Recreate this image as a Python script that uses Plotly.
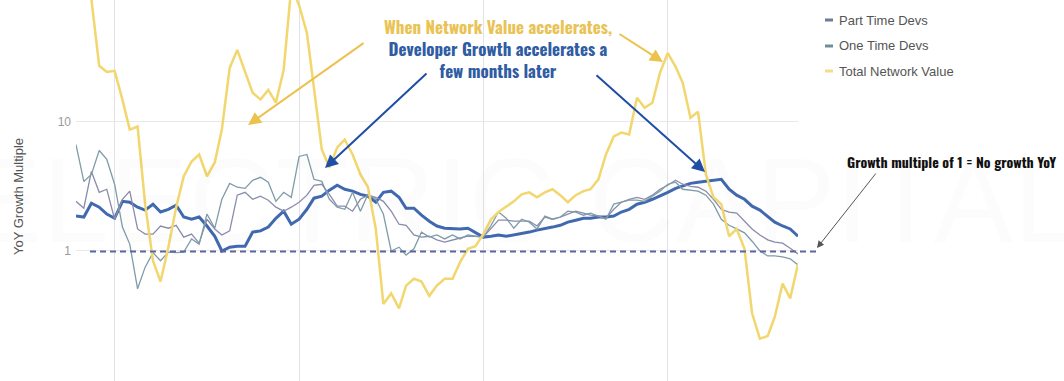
import plotly.graph_objects as go
import pandas as pd

# ---------------- data ----------------
months = pd.date_range("2011-08-01", "2019-06-01", freq="MS")

full_time = [1.86, 1.83, 2.34, 2.18, 1.93,
             1.79, 2.42, 2.38, 2.18, 2.07, 2.30, 2.00, 2.10, 2.26, 1.83,
             1.76, 1.83, 1.56, 1.30, 1.00, 1.07, 1.09, 1.09, 1.40, 1.43,
             1.53, 1.79, 2.03, 1.61, 1.76, 2.10, 2.56, 2.65, 2.95, 3.22,
             3.00, 2.90, 2.74, 2.65, 2.38, 2.84, 2.90, 2.60, 2.14, 2.14,
             1.89, 1.70, 1.56, 1.50, 1.48, 1.48, 1.50, 1.38, 1.28, 1.30,
             1.33, 1.30, 1.33, 1.35, 1.40, 1.45, 1.48, 1.53, 1.58, 1.67,
             1.73, 1.79, 1.79, 1.83, 1.83, 1.86, 2.00, 2.10, 2.30, 2.38,
             2.51, 2.65, 2.84, 3.05, 3.16, 3.33, 3.40, 3.45, 3.52, 3.58,
             3.00, 2.70, 2.51, 2.22, 2.07, 1.86, 1.67, 1.56, 1.48, 1.30]

part_time = [2.42, 2.14, 4.12, 2.84, 3.00,
             1.76, 2.51, 2.90, 1.48, 1.35, 1.35, 1.56, 1.50, 1.58, 1.28,
             1.35, 1.15, 1.76, 1.48, 1.33, 1.43, 2.70, 2.84, 2.51, 2.65,
             2.47, 2.18, 2.03, 2.18, 2.38, 2.70, 3.22, 3.28, 2.74, 2.22,
             2.22, 2.03, 2.51, 2.70, 2.60, 2.42, 2.03, 1.61, 1.58, 1.33,
             1.28, 1.30, 1.22, 1.17, 1.22, 1.26, 1.30, 1.30, 1.28, 1.50,
             1.73, 1.73, 1.70, 1.70, 1.70, 1.56, 1.83, 1.76, 1.83, 1.93,
             2.03, 1.96, 1.89, 1.86, 1.79, 2.10, 2.38, 2.51, 2.60, 2.51,
             2.70, 3.00, 3.22, 3.52, 3.28, 3.16, 3.11, 2.90, 2.51, 2.10,
             2.00, 1.96, 1.70, 1.48, 1.33, 1.22, 1.17, 1.15, 1.05, 0.95]

one_time = [6.65, 3.45, 3.91, 5.98, 5.10,
            3.28, 1.53, 1.13, 0.51, 0.75, 0.97, 0.84, 0.98, 0.97, 0.98,
            1.24, 1.13, 1.93, 1.50, 2.51, 3.33, 3.11, 3.05, 3.52, 3.71,
            3.40, 2.42, 2.84, 2.60, 5.38, 5.57, 3.58, 3.45, 2.51, 2.18,
            2.10, 2.84, 2.03, 2.74, 2.51, 1.93, 1.00, 1.07, 0.93, 1.04,
            1.40, 1.28, 1.33, 1.24, 1.33, 1.24, 1.33, 1.30, 1.28, 1.58,
            2.00, 1.79, 1.50, 1.76, 1.67, 1.48, 1.86, 1.76, 1.83, 2.03,
            2.00, 1.89, 1.96, 1.86, 1.76, 2.30, 2.38, 2.47, 2.47, 2.42,
            2.65, 2.90, 3.28, 3.40, 3.00, 2.95, 2.90, 2.70, 2.30, 1.76,
            1.58, 1.48, 1.38, 1.19, 1.00, 0.915, 0.915, 0.90, 0.87, 0.78]

network_value = [160, 120, 88, 27.0, 24.2,
                 24.7, 14.8, 8.68, 9.15, 2.30, 0.84, 0.58, 1.07, 2.18, 3.78,
                 4.92, 5.57, 3.78, 4.84, 8.68, 26.0, 35.8, 24.2, 16.7, 14.8,
                 17.6, 14.0, 25.1, 110, 79.4, 48.4, 17.6, 6.09, 4.43, 6.31,
                 7.27, 5.57, 3.91, 3.11, 1.48, 0.39, 0.47, 0.36, 0.54, 0.61,
                 0.58, 0.45, 0.54, 0.61, 0.61, 0.82, 1.04, 1.09, 1.35, 1.76,
                 2.00, 2.22, 2.42, 2.74, 2.84, 2.60, 2.84, 3.00, 2.70, 2.38,
                 2.70, 2.90, 3.00, 3.58, 5.57, 7.67, 8.23, 7.94, 15.3, 12.8,
                 14.0, 23.8, 33.9, 26.5, 20.0, 10.7, 11.9, 3.91, 2.60, 2.30,
                 1.30, 1.48, 1.04, 0.33, 0.21, 0.22, 0.31, 0.56, 0.43, 0.79]

series_names = ["Full Time Devs", "Part Time Devs", "One Time Devs", "Total Network Value"]
y_tick_values = [0.1, 1, 10]
y_tick_labels = ["0.1", "1", "10"]
y_title = "YoY Growth Multiple"
note_main = ["When Network Value accelerates,", "Developer Growth accelerates a", "few months later"]
note_side = "Growth multiple of 1 = No growth YoY"
watermark = "ELECTRIC CAPITAL"

# ---------------- styling / layout ----------------
W, H = 1064, 381
L, R = 76, 798


def px(x):
    return (x - L) / (R - L)


def py(y):
    return 1 - y / H


line_colors = ["#4169b0", "#8a8cae", "#7f9ca8", "#f2d66e"]
legend_colors = ["#4169b0", "#6f7b9e", "#6f8f97", "#f3dc8a"]
line_widths = [3, 1.3, 1.3, 2.5]
YELLOW_TXT = "#e9c354"
BLUE_TXT = "#2f5ca2"
COND = "Oswald, 'Liberation Sans Narrow', 'DejaVu Sans Condensed', 'Roboto Condensed', 'Liberation Sans', sans-serif"
SANS = "'Liberation Sans', Arial, Helvetica, sans-serif"

fig = go.Figure()
for name, vals, col, wd in zip(series_names, [full_time, part_time, one_time, network_value],
                               line_colors, line_widths):
    fig.add_trace(go.Scatter(x=months, y=vals, mode="lines", name=name,
                             line=dict(color=col, width=wd), showlegend=False,
                             hoverinfo="skip"))

fig.update_layout(
    width=W, height=H,
    margin=dict(l=L, r=W - R, t=0, b=0, autoexpand=False),
    paper_bgcolor="white", plot_bgcolor="white",
    showlegend=False,
)
fig.update_xaxes(range=[months[0], months[-1]], showticklabels=False, ticks="",
                 showgrid=True, gridcolor="#e1e3e9", gridwidth=1,
                 dtick="M24", tick0="2012-01-01", zeroline=False, showline=False,
                 automargin=False)
fig.update_yaxes(type="log", range=[-1.005, 1.94], tickvals=y_tick_values, ticktext=y_tick_labels,
                 showgrid=True, gridcolor="#e8e8e8", gridwidth=1, ticks="",
                 tickfont=dict(color="#9a9a9a", size=12, family=SANS),
                 ticklabelstandoff=4, zeroline=False, showline=False, automargin=False)

shapes = []
# dashed "no growth" line at a multiple of 1
shapes.append(dict(type="line", xref="paper", yref="paper", x0=px(90), x1=px(816),
                   y0=py(251.5), y1=py(251.5),
                   line=dict(color="#5b66a0", width=2, dash="6px,4px"), layer="above"))

annotations = []
# watermark
annotations.append(dict(text=watermark, xref="paper", yref="paper", x=px(1082), y=py(200),
                        xanchor="right", yanchor="middle", showarrow=False,
                        font=dict(family=SANS, size=120, color="rgba(0,0,0,0.012)")))
# y-axis title
annotations.append(dict(text=y_title, xref="paper", yref="paper", x=px(18), y=py(197),
                        xanchor="center", yanchor="middle", showarrow=False, textangle=-90,
                        font=dict(family=SANS, size=13, color="#555555")))

# legend (manual, compact dashes)
leg_y = [-5, 20, 46, 71]
for name, col, yc in zip(series_names, legend_colors, leg_y):
    shapes.append(dict(type="rect", xref="paper", yref="paper", x0=px(825), x1=px(833),
                       y0=py(yc + 1.5), y1=py(yc - 1.5), fillcolor=col, line=dict(width=0)))
    annotations.append(dict(text=name, xref="paper", yref="paper", x=px(837), y=py(yc),
                            xanchor="left", yanchor="middle", showarrow=False,
                            font=dict(family=SANS, size=13, color="#555555")))

# main note
main_text = ("<span style='color:%s'>%s</span><br>%s<br>%s"
             % (YELLOW_TXT, note_main[0], note_main[1], note_main[2]))
annotations.append(dict(text=main_text, xref="paper", yref="paper", x=px(498), y=py(48),
                        xanchor="center", yanchor="middle", align="center", showarrow=False,
                        font=dict(family=COND, size=17, color=BLUE_TXT, weight="bold")))
annotations.append(dict(text=note_side, xref="paper", yref="paper", x=px(951), y=py(161),
                        xanchor="center", yanchor="middle", showarrow=False,
                        font=dict(family=COND, size=14, color="#111111", weight="bold")))

# arrows: (tail_x, tail_y, head_x, head_y, colour, width, head size)
arrows = [
    (365, 42, 248, 125, "#ecc24c", 2, 1.3),
    (428, 72, 325, 168, "#1f4ea6", 2, 1.3),
    (618, 33, 663, 62, "#ecc24c", 2, 1.3),
    (595, 74, 705, 172, "#1f4ea6", 2, 1.3),
    (877, 172, 817, 248, "#555555", 1, 1.4),
]
for tx, ty, hx, hy, col, wd, hs in arrows:
    annotations.append(dict(text="", xref="paper", yref="paper", x=px(hx), y=py(hy),
                            ax=tx - hx, ay=ty - hy, axref="pixel", ayref="pixel",
                            showarrow=True, arrowhead=2, arrowsize=hs, arrowwidth=wd,
                            arrowcolor=col, standoff=0))

fig.update_layout(shapes=shapes, annotations=annotations)
fig.write_html("out.html", config={"displayModeBar": False},
               post_script="document.body.style.margin='0';")
